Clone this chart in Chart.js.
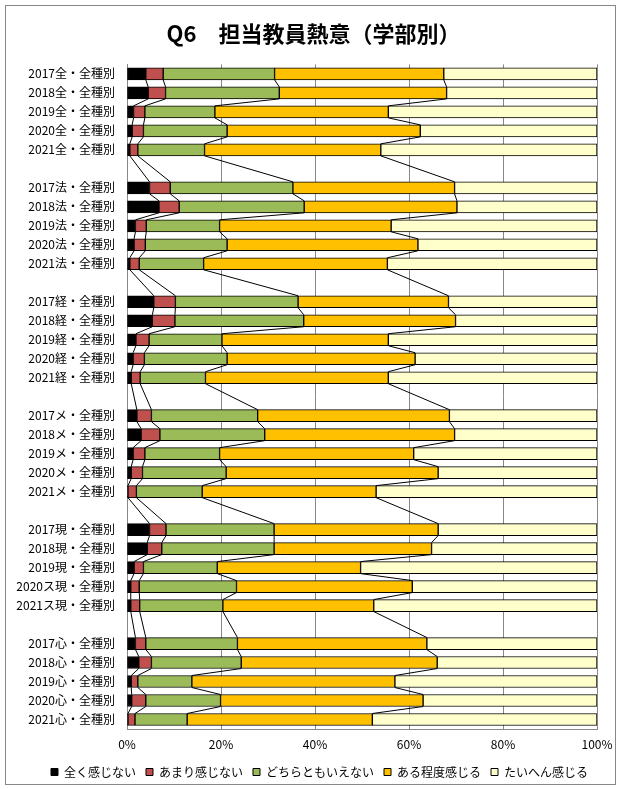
<!DOCTYPE html>
<html>
<head>
<meta charset="utf-8">
<script src="https://cdn.jsdelivr.net/npm/chart.js@4"></script>
<style>
  body { margin: 0; background: #fff; }
</style>
</head>
<body>
<canvas id="chart" width="621" height="789"></canvas>
<script>
// カテゴリ (空文字はグループ間の空行)
const labels = [
  '2017全・全種別', '2018全・全種別', '2019全・全種別', '2020全・全種別', '2021全・全種別', '',
  '2017法・全種別', '2018法・全種別', '2019法・全種別', '2020法・全種別', '2021法・全種別', '',
  '2017経・全種別', '2018経・全種別', '2019経・全種別', '2020経・全種別', '2021経・全種別', '',
  '2017メ・全種別', '2018メ・全種別', '2019メ・全種別', '2020メ・全種別', '2021メ・全種別', '',
  '2017現・全種別', '2018現・全種別', '2019現・全種別', '2020ス現・全種別', '2021ス現・全種別', '',
  '2017心・全種別', '2018心・全種別', '2019心・全種別', '2020心・全種別', '2021心・全種別'
];

const seriesNames = ['全く感じない', 'あまり感じない', 'どちらともいえない', 'ある程度感じる', 'たいへん感じる'];
const seriesColors = ['#000000', '#C0504D', '#9BBB59', '#FFC000', '#FFFFCC'];

// 割合 (%)
const zenku = [4.0, 4.5, 1.4, 1.1, 0.6, null, 4.8, 6.8, 1.8, 1.5, 0.6, null, 5.7, 5.4, 1.9, 1.3, 0.9, null,
  2.1, 3.0, 1.3, 0.9, 0.2, null, 4.8, 4.3, 1.5, 0.8, 0.8, null, 1.8, 2.5, 0.9, 1.0, 0.2];
const amari = [3.7, 3.7, 2.4, 2.4, 1.7, null, 4.4, 4.3, 2.3, 2.4, 2.0, null, 4.6, 4.8, 2.8, 2.4, 1.9, null,
  3.1, 4.0, 2.5, 2.4, 1.8, null, 3.5, 3.1, 2.0, 1.8, 1.9, null, 2.2, 2.7, 1.4, 3.0, 1.5];
const dochira = [23.7, 24.2, 14.9, 17.8, 14.2, null, 26.1, 26.6, 15.6, 17.4, 13.7, null, 26.1, 27.4, 15.5, 17.6, 13.9, null,
  22.6, 22.3, 15.9, 17.8, 14.0, null, 23.0, 23.9, 15.7, 20.7, 17.7, null, 19.5, 19.1, 11.5, 15.9, 11.1];
const aru = [36.0, 35.6, 36.9, 41.1, 37.5, null, 34.4, 32.5, 36.5, 40.6, 39.1, null, 32.0, 32.3, 35.4, 40.0, 38.9, null,
  40.8, 40.4, 41.3, 45.1, 37.0, null, 34.9, 33.5, 30.5, 37.4, 32.1, null, 40.3, 41.7, 43.2, 43.1, 39.4];
const taihen = [32.6, 32.0, 44.4, 37.6, 46.0, null, 30.3, 29.8, 43.8, 38.1, 44.6, null, 31.6, 30.1, 44.4, 38.7, 44.4, null,
  31.4, 30.3, 39.0, 33.8, 47.0, null, 33.8, 35.2, 50.3, 39.3, 47.5, null, 36.2, 34.0, 43.0, 37.0, 47.8];

const xTicks = [0, 20, 40, 60, 80, 100];

const font = "'Noto Sans CJK JP', 'Noto Sans', sans-serif";
Chart.defaults.font.family = font;
Chart.defaults.color = '#000';

// 白背景と外枠
const frame = {
  id: 'frame',
  beforeDraw(chart) {
    const ctx = chart.ctx;
    ctx.save();
    ctx.fillStyle = '#fff';
    ctx.fillRect(0, 0, chart.width, chart.height);
    ctx.strokeStyle = '#888';
    ctx.lineWidth = 1;
    ctx.strokeRect(5.5, 5.5, 610, 779);
    ctx.restore();
  },
  // タイトルと凡例を少し右へ (元の図の中心に合わせる)
  afterLayout(chart) {
    chart.legend.left += 18;
    chart.legend.right += 18;
    chart.titleBlock.left += 12;
    chart.titleBlock.right += 12;
  }
};

// 区分線 (隣の棒の同じ境目を結ぶ)
const seriesLines = {
  id: 'seriesLines',
  afterDatasetsDraw(chart) {
    const ctx = chart.ctx;
    ctx.save();
    ctx.strokeStyle = '#000';
    ctx.lineWidth = 1;
    chart.data.datasets.forEach((ds, di) => {
      if (di === chart.data.datasets.length - 1) return;
      const bars = chart.getDatasetMeta(di).data;
      let prev = null;
      ds.data.forEach((v, i) => {
        if (v === null) return;
        const bar = bars[i];
        if (prev) {
          ctx.beginPath();
          ctx.moveTo(prev.x, prev.y + prev.height / 2);
          ctx.lineTo(bar.x, bar.y - bar.height / 2);
          ctx.stroke();
        }
        prev = bar;
      });
    });
    ctx.restore();
  }
};

const values = [zenku, amari, dochira, aru, taihen];

new Chart(document.getElementById('chart'), {
  type: 'bar',
  data: {
    labels: labels,
    datasets: values.map((arr, i) => ({
      label: seriesNames[i],
      data: arr,
      backgroundColor: seriesColors[i],
      borderColor: '#000',
      borderWidth: 1,
      borderSkipped: false,
      barThickness: 12
    }))
  },
  options: {
    indexAxis: 'y',
    responsive: false,
    animation: false,
    layout: { padding: { top: 6, left: 6, right: 24, bottom: 1 } },
    plugins: {
      title: {
        display: true,
        text: 'Q6　担当教員熱意（学部別）',
        font: { size: 22, weight: 'bold', family: font },
        color: '#000',
        padding: { top: 14, bottom: 18 }
      },
      legend: {
        position: 'bottom',
        labels: {
          boxWidth: 7,
          boxHeight: 7,
          padding: 10,
          font: { size: 12, family: font },
          color: '#000'
        }
      },
      tooltip: { enabled: false }
    },
    scales: {
      x: {
        stacked: true,
        min: 0,
        max: 100,
        afterBuildTicks: (scale) => { scale.ticks = xTicks.map(v => ({ value: v })); },
        ticks: {
          callback: (v) => v + '%',
          font: { size: 12, family: font },
          color: '#000',
          padding: 8
        },
        grid: { color: '#888', drawTicks: false },
        border: { color: '#888' },
        afterFit: (scale) => { scale.height = 27; }
      },
      y: {
        stacked: true,
        grid: { display: false, drawTicks: false },
        border: { color: '#888' },
        ticks: {
          autoSkip: false,
          font: { size: 12, family: font },
          color: '#000',
          padding: 12
        },
        afterFit: (scale) => { scale.width = 121; }
      }
    }
  },
  plugins: [frame, seriesLines]
});
</script>
</body>
</html>
